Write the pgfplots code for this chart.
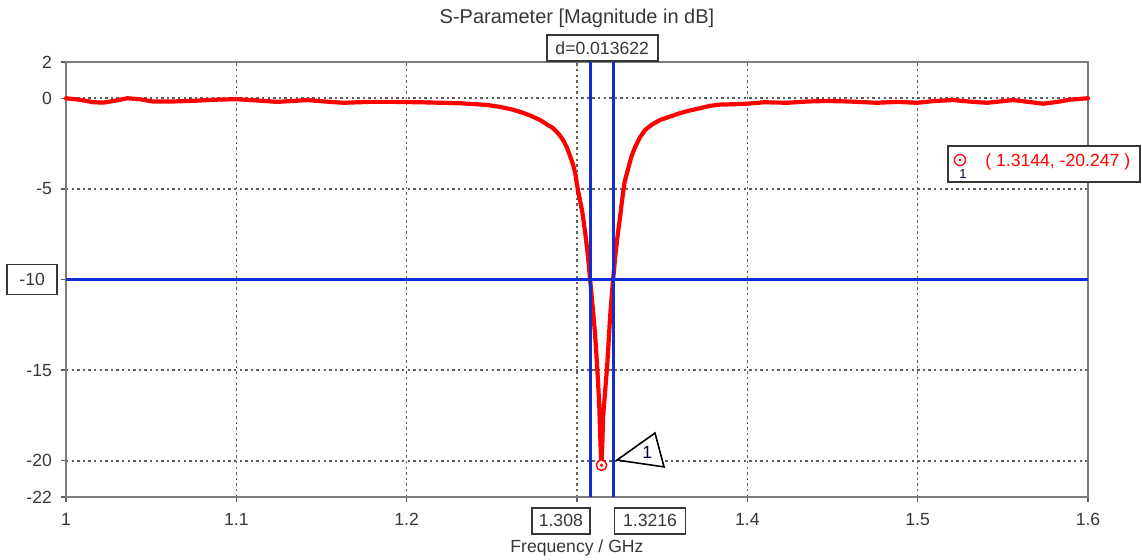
\documentclass[border=0pt]{standalone}
\usepackage{pgfplots}
\pgfplotsset{compat=1.18}
\usepackage{fontspec}
\setmainfont{Liberation Sans}
\newfontfamily\dejavu{DejaVu Sans}
\definecolor{cstred}{RGB}{255,0,0}
\definecolor{cstblue}{RGB}{16,44,210}
\definecolor{framegray}{RGB}{125,125,125}
\definecolor{gridgray}{RGB}{95,95,95}
\definecolor{txtgray}{RGB}{55,55,55}
\newcommand{\lab}{\fontsize{8.8}{10}\selectfont}
\begin{document}
\begin{tikzpicture}
\path[use as bounding box] (-33pt,-31pt) rectangle (538pt,248.5pt);
\begin{axis}[
  at={(0pt,0pt)}, anchor=south west,
  scale only axis, width=511pt, height=217.5pt,
  xmin=1, xmax=1.6, ymin=-22, ymax=2,
  xtick={1,1.1,1.2,1.3,1.4,1.5,1.6},
  xticklabels={1,1.1,1.2,,1.4,1.5,1.6},
  ytick={2,0,-5,-10,-15,-20,-22},
  yticklabels={2,0,-5,,-15,-20,-22},
  grid=major,
  major grid style={gridgray, line width=0.8pt, dash pattern=on 1.2pt off 1.6pt},
  axis line style={framegray, line width=0.8pt},
  tick align=outside,
  major tick length=2.5pt,
  tick style={gridgray, line width=0.7pt},
  xtick pos=bottom, ytick pos=left,
  ticklabel style={font=\lab, text=txtgray},
  xticklabel style={yshift=-2pt},
  yticklabel style={xshift=-1pt},
  clip=false,
]
\addplot[cstred, line width=2.1pt, line join=round, line cap=round] coordinates {
(1.000,0.0)(1.008,-0.08)(1.016,-0.22)(1.022,-0.24)(1.028,-0.15)(1.036,0.0)
(1.043,-0.05)(1.051,-0.18)(1.062,-0.18)(1.075,-0.14)(1.088,-0.08)(1.100,-0.05)
(1.112,-0.12)(1.124,-0.2)(1.133,-0.15)(1.142,-0.1)(1.152,-0.18)(1.163,-0.25)
(1.178,-0.2)(1.192,-0.2)(1.207,-0.22)(1.221,-0.25)(1.232,-0.28)(1.241,-0.33)
(1.248,-0.38)(1.255,-0.48)(1.261,-0.6)(1.2666,-0.75)(1.2725,-0.95)(1.2783,-1.2)
(1.2824,-1.45)(1.286,-1.65)(1.2895,-2.0)(1.2918,-2.3)(1.294,-2.7)(1.296,-3.2)
(1.2975,-3.6)(1.2989,-4.1)(1.3006,-5.1)(1.303,-6.2)(1.3048,-7.4)(1.3063,-8.6)
(1.3077,-10.0)(1.3092,-11.5)(1.3106,-13.0)(1.3115,-14.3)(1.3124,-15.7)
(1.3131,-17.0)(1.3136,-18.5)(1.3140,-19.6)(1.3144,-20.247)(1.3149,-19.0)
(1.3153,-17.6)(1.3165,-16.2)(1.3177,-14.8)(1.3186,-13.4)(1.3194,-12.1)
(1.3203,-11.0)(1.3212,-10.0)(1.3226,-8.6)(1.3241,-7.4)(1.3255,-6.4)(1.3265,-5.6)
(1.328,-4.6)(1.330,-3.9)(1.332,-3.2)(1.3341,-2.7)(1.337,-2.15)(1.340,-1.75)
(1.344,-1.45)(1.3488,-1.2)(1.355,-1.0)(1.3605,-0.82)(1.366,-0.68)(1.3723,-0.55)
(1.378,-0.42)(1.384,-0.35)(1.392,-0.33)(1.3999,-0.3)(1.410,-0.22)(1.4234,-0.25)
(1.435,-0.18)(1.4469,-0.15)(1.460,-0.18)(1.4762,-0.25)(1.488,-0.2)(1.4997,-0.25)
(1.510,-0.15)(1.5208,-0.1)(1.530,-0.18)(1.5408,-0.25)(1.548,-0.18)(1.556,-0.1)
(1.565,-0.2)(1.5737,-0.3)(1.582,-0.2)(1.5895,-0.08)(1.600,0.0)
};
% markers (blue)
\addplot[cstblue, line width=1.5pt] coordinates {(1,-10) (1.6,-10)};
\addplot[cstblue, line width=1.5pt] coordinates {(1.308,-22) (1.308,2)};
\addplot[cstblue, line width=1.5pt] coordinates {(1.3216,-22) (1.3216,2)};
% minimum marker
\addplot[only marks, mark=*, mark size=2.6pt, mark options={draw=cstred, fill=white, line width=0.7pt}] coordinates {(1.3144,-20.247)};
\addplot[only marks, mark=*, mark size=0.6pt, cstred] coordinates {(1.3144,-20.247)};
% callout triangle
\draw[black, line width=0.8pt, fill=white] (axis cs:1.3235,-19.96) -- (axis cs:1.3458,-18.47) -- (axis cs:1.3511,-20.34) -- cycle;
\node[font=\lab, text=black!80!blue] at (axis cs:1.3412,-19.55) {1};
% boxed labels
\tikzset{boxlab/.style={draw=txtgray, line width=0.8pt, fill=white, font=\lab, text=txtgray, inner sep=0pt, minimum height=13pt}}
\node[boxlab, anchor=south, minimum width=55.5pt] at (axis cs:1.3148,2) {d=0.013622};
\node[boxlab, anchor=north east, minimum width=29pt, yshift=-5pt] at (axis cs:1.308,-22) {1.308};
\node[boxlab, anchor=north west, minimum width=35.5pt, yshift=-5pt] at (axis cs:1.3216,-22) {1.3216};
\node[boxlab, anchor=east, minimum width=25pt, minimum height=15pt, xshift=-4pt] at (axis cs:1,-10) {-10};
% titles
\node[font=\fontsize{10}{12}\selectfont, text=txtgray] at ([yshift=22pt]rel axis cs:0.5,1) {S-Parameter [Magnitude in dB]};
\node[font=\lab, text=txtgray] at ([yshift=-25.5pt]rel axis cs:0.5,0) {Frequency / GHz};
\end{axis}
% annotation box on the right
\draw[txtgray, line width=0.8pt, fill=white] (441pt,157.5pt) rectangle (537pt,175.5pt);
\node[text=cstred, font=\dejavu\fontsize{9.5}{10}\selectfont, inner sep=0pt] at (447pt,168pt) {⊙};
\node[text=black!80!blue, font=\fontsize{6.5}{7}\selectfont] at (448.5pt,161.5pt) {1};
\node[text=cstred, font=\lab, anchor=west, inner sep=0pt] at (459.5pt,167.5pt) {( 1.3144, -20.247 )};
\end{tikzpicture}
\end{document}
